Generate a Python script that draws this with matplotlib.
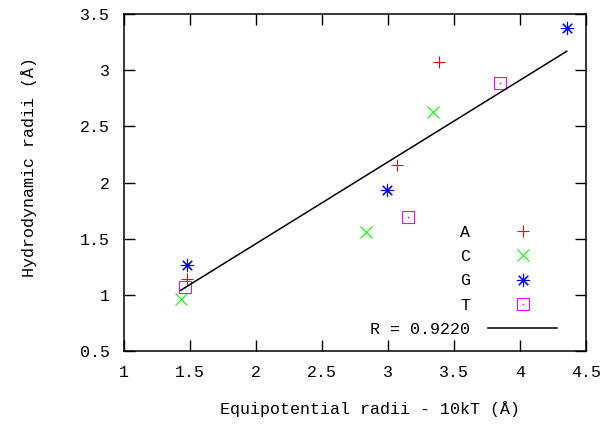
import matplotlib
matplotlib.use("Agg")
import matplotlib.pyplot as plt
from matplotlib.ticker import MultipleLocator, FormatStrFormatter
import numpy as np

plt.rcParams['font.family'] = ['Liberation Mono', 'DejaVu Sans Mono']

# data (equipotential radius, hydrodynamic radius)
a_x = [3.386, 3.068, 1.475]
a_y = [3.075, 2.155, 1.138]
c_x = [3.343, 2.831, 1.429]
c_y = [2.625, 1.561, 0.959]
g_x = [4.354, 2.990, 1.475]
g_y = [3.372, 1.933, 1.265]
t_x = [3.848, 3.152, 1.462]
t_y = [2.888, 1.695, 1.072]
fit_slope = 0.7277
fit_intercept = 0.0
fit_label = "R = 0.9220"

fig = plt.figure(figsize=(6.08, 4.29), dpi=100)
ax = fig.add_axes([124/608, 1-351/429, 462/608, 337/429])

fs = 12
mw = 0.8
hA, = ax.plot(a_x, a_y, ls='none', marker='+', ms=8.6, mew=mw, color='#ff0000')
hC, = ax.plot(c_x, c_y, ls='none', marker='x', ms=8.6, mew=mw, color='#00ff00')
hG, = ax.plot(g_x, g_y, ls='none', marker=(8, 2, 0), ms=9.5, mew=mw, color='#0000ff')
hT, = ax.plot(t_x, t_y, ls='none', marker='s', ms=8, mew=mw, mfc='none', color='#ff00ff')
hTd, = ax.plot(t_x, t_y, ls='none', marker='o', ms=1.2, mew=0, color='#ff00ff')

all_x = np.array(a_x + c_x + g_x + t_x)
fx = np.array([all_x.min(), all_x.max()])
hF, = ax.plot(fx, fit_slope * fx + fit_intercept, color='black', lw=1.1)

ax.set_xlim(1, 4.5)
ax.set_ylim(0.5, 3.5)
ax.xaxis.set_major_locator(MultipleLocator(0.5))
ax.yaxis.set_major_locator(MultipleLocator(0.5))
ax.xaxis.set_major_formatter(FormatStrFormatter('%g'))
ax.yaxis.set_major_formatter(FormatStrFormatter('%g'))
ax.tick_params(axis='both', direction='in', length=8, width=1.0, top=True, right=True,
               labelsize=fs, colors='black')
ax.tick_params(axis='x', pad=10)
ax.tick_params(axis='y', pad=10)
for s in ax.spines.values():
    s.set_linewidth(1.1)

ax.set_xlabel("Equipotential radii - 10kT (Å)", fontsize=fs)
ax.set_ylabel("Hydrodynamic radii (Å)", fontsize=fs)
ax.xaxis.set_label_coords((370-124)/462, (351-409)/337)
ax.yaxis.set_label_coords((29-124)/462, (351-167)/337)
ax.xaxis.label.set_va('center')
ax.yaxis.label.set_va('center')

leg = ax.legend([hA, hC, hG, (hT, hTd), hF], ["A", "C", "G", "T", fit_label],
                loc='lower right', bbox_to_anchor=(557/608, 1-337/429),
                bbox_transform=fig.transFigure, frameon=False, markerfirst=False,
                fontsize=fs, handlelength=4.13, handletextpad=1.08, labelspacing=0.56,
                borderpad=0, borderaxespad=0)

fig.savefig("out.png", dpi=100)
